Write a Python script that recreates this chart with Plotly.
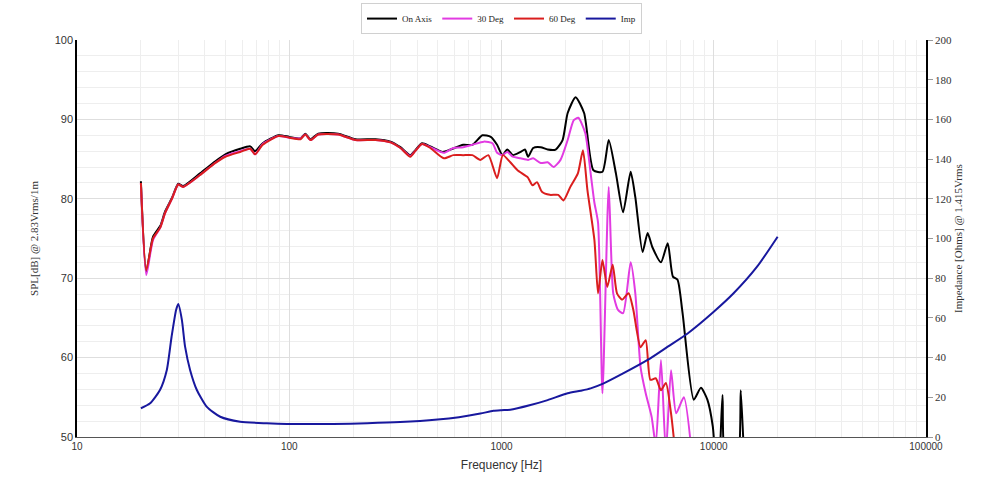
import plotly.graph_objects as go

# ---------------- data ----------------
ON_AXIS_F = [20, 21.2, 22.8, 24.7, 26, 28, 30, 31.6, 38, 44.7, 50, 58.7, 65.5, 69, 75, 89, 100, 113, 119, 126,
             137, 170, 205, 255, 300, 334, 372, 392, 422, 462, 528, 575, 660, 729, 813, 890, 953, 1010, 1065,
             1130, 1230, 1290, 1335, 1410, 1530, 1650, 1800, 1940, 2050, 2234, 2450, 2710, 2990, 3200, 3460,
             3740, 4060, 4270, 4620, 4880, 5140, 5640, 6070, 6420, 6750, 7130, 8050, 8700, 9330, 9900, 10300,
             10600, 11000, 11400, 12900, 13400, 13900]
ON_AXIS_DB = [82.2, 70.8, 75.2, 76.6, 78.4, 80.1, 81.9, 81.6, 83.2, 84.7, 85.6, 86.3, 86.6, 86.0, 87.0, 88.0,
              87.8, 87.6, 88.2, 87.5, 88.2, 88.2, 87.5, 87.5, 87.2, 86.5, 85.5, 86.1, 87.0, 86.6, 85.9, 86.2,
              86.8, 86.8, 88.0, 87.8, 86.8, 85.5, 86.2, 85.5, 85.9, 86.2, 85.3, 86.4, 86.5, 86.2, 86.2, 87.4,
              90.8, 92.8, 90.8, 83.6, 83.4, 87.4, 83.2, 78.3, 83.4, 80.2, 73.3, 75.7, 73.9, 72.0, 74.4, 70.2,
              69.8, 65.6, 54.7, 56.2, 54.7, 51.3, 46.0, 47.0, 55.3, 47.0, 47.0, 55.9, 47.0]

DEG30_F = [20, 21.2, 22.8, 24.7, 26, 28, 30, 31.6, 38, 44.7, 50, 58.7, 65.5, 69, 75, 89, 100, 113, 119, 126,
           137, 170, 205, 255, 300, 334, 372, 392, 422, 462, 535, 593, 660, 729, 825, 907, 953, 1010, 1065,
           1130, 1230, 1335, 1410, 1530, 1650, 1760, 1897, 2050, 2190, 2300, 2480, 2630, 2740, 2850, 2990,
           3200, 3360, 3540, 3740, 4060, 4270, 4520, 4780, 5100, 5330, 5640, 5950, 6290, 6650, 7230, 8000]
DEG30_DB = [82.0, 70.4, 74.8, 76.4, 78.2, 80.0, 81.8, 81.5, 83.0, 84.5, 85.4, 86.0, 86.3, 85.6, 86.9, 87.9,
            87.7, 87.6, 88.1, 87.4, 88.1, 88.1, 87.4, 87.4, 87.1, 86.4, 85.4, 86.0, 86.9, 86.5, 85.8, 86.4,
            86.5, 86.8, 87.2, 87.0, 85.8, 85.5, 85.9, 85.3, 85.1, 84.9, 85.1, 84.5, 84.6, 84.0, 84.9, 87.4,
            89.9, 90.2, 88.3, 83.2, 79.5, 77.0, 55.5, 81.5, 68.1, 66.0, 65.6, 72.0, 68.1, 58.8, 55.5, 52.5,
            49.0, 59.7, 48.0, 58.4, 53.0, 55.0, 46.0]

DEG60_F = [20, 21.2, 22.8, 24.7, 26, 28, 30, 31.6, 38, 44.7, 50, 58.7, 65.5, 69, 75, 89, 100, 113, 119, 126,
           137, 170, 205, 255, 300, 334, 372, 392, 422, 462, 535, 593, 660, 729, 795, 867, 953, 1015, 1100,
           1190, 1330, 1400, 1470, 1550, 1690, 1850, 1960, 2110, 2290, 2420, 2540, 2740, 2850, 2990, 3150,
           3340, 3500, 3700, 3970, 4180, 4520, 4780, 5030, 5330, 5640, 5950, 6290, 6650]
DEG60_DB = [82.0, 71.0, 75.0, 76.4, 78.2, 80.0, 81.8, 81.5, 83.0, 84.5, 85.3, 85.9, 86.3, 85.6, 86.8, 87.9,
            87.7, 87.5, 88.1, 87.4, 88.1, 88.1, 87.4, 87.4, 87.1, 86.4, 85.3, 86.0, 86.9, 86.4, 85.1, 85.5,
            85.5, 85.5, 84.9, 85.5, 82.6, 85.5, 84.6, 83.6, 82.7, 81.7, 82.1, 80.9, 80.5, 80.5, 79.8, 81.5,
            83.2, 86.1, 81.1, 74.8, 68.1, 72.3, 68.9, 71.7, 68.1, 67.3, 68.1, 66.0, 61.3, 62.2, 57.2, 57.4,
            55.9, 56.8, 53.0, 47.0]

IMP_F = [20, 22.1, 24.6, 26.5, 27.9, 29.3, 30, 31.2, 32.3, 34.1, 36.7, 40.8, 47.3, 58.7, 78.4, 97.6, 130, 161,
         233, 333, 500, 630, 795, 916, 1000, 1100, 1370, 1650, 2050, 2360, 2630, 3030, 3740, 4880, 6070, 7560,
         10000, 12400, 16000, 20000]
IMP_OHM = [14.5, 17.0, 23.7, 33.8, 50.5, 64.0, 67.0, 59.0, 45.5, 33.8, 23.7, 15.3, 10.2, 7.7, 6.9, 6.55, 6.5,
           6.55, 6.9, 7.5, 8.8, 10.0, 11.8, 13.2, 13.5, 13.7, 16.1, 18.6, 22.0, 23.3, 24.5, 27.0, 32.0, 38.8,
           45.5, 52.3, 63.1, 72.4, 85.8, 100.9]

X_TICKS = [10, 100, 1000, 10000, 100000]
X_TICK_TEXT = ["10", "100", "1000", "10000", "100000"]
X_MINOR = [m * d for d in (10, 100, 1000, 10000) for m in range(2, 10)]

SERIES = [
    ("On Axis", ON_AXIS_F, ON_AXIS_DB, "#000000", "y"),
    ("30 Deg", DEG30_F, DEG30_DB, "#E23BE2", "y"),
    ("60 Deg", DEG60_F, DEG60_DB, "#DA1E1E", "y"),
    ("Imp", IMP_F, IMP_OHM, "#18189E", "y2"),
]

fig = go.Figure()
for name, fx, fy, col, ax in SERIES:
    fig.add_trace(go.Scatter(x=fx, y=fy, name=name, mode="lines", yaxis=ax,
                             line=dict(color=col, width=2, shape="spline", smoothing=0.6)))

serif = "Liberation Serif, Times New Roman, serif"
sans = "Liberation Sans, Arial, sans-serif"

fig.update_layout(
    width=996, height=480,
    margin=dict(l=77, r=70, t=40, b=43, autoexpand=False),
    paper_bgcolor="white", plot_bgcolor="white",
    showlegend=True,
    legend=dict(orientation="h", x=0.5, xanchor="center", y=1.093, yanchor="top",
                font=dict(family=serif, size=9, color="#222"),
                bordercolor="#d0d0d0", borderwidth=1, bgcolor="white",
                itemwidth=30, tracegroupgap=0),
    xaxis=dict(type="log", range=[1, 5], tickvals=X_TICKS, ticktext=X_TICK_TEXT,
               showgrid=True, gridcolor="#dedede", gridwidth=1,
               minor=dict(tickvals=X_MINOR, showgrid=True, gridcolor="#eeeeee", ticks=""),
               showline=True, linecolor="#555", linewidth=1, ticks="", zeroline=False,
               tickfont=dict(family=sans, size=10, color="#333"),
               title=dict(text="Frequency [Hz]", font=dict(family=sans, size=12, color="#333"), standoff=9)),
    yaxis=dict(range=[50, 100], dtick=10, showgrid=True, gridcolor="#dedede",
               minor=dict(dtick=2, showgrid=True, gridcolor="#eeeeee"),
               showline=True, linecolor="#000", linewidth=1.5, ticks="", zeroline=False,
               tickfont=dict(family=sans, size=11, color="#333"),
               title=dict(text="SPL[dB] @ 2.83Vrms/1m", font=dict(family=serif, size=11, color="#333"),
                          standoff=14)),
    yaxis2=dict(range=[0, 200], dtick=20, overlaying="y", side="right", showgrid=False,
                showline=True, linecolor="#000", linewidth=1.5, ticks="outside", ticklen=5,
                tickcolor="#999", zeroline=False,
                tickfont=dict(family=serif, size=11, color="#333"),
                title=dict(text="Impedance [Ohms] @ 1.415Vrms", font=dict(family=serif, size=11, color="#333"),
                           standoff=2)),
)

fig.write_html("out.html")
